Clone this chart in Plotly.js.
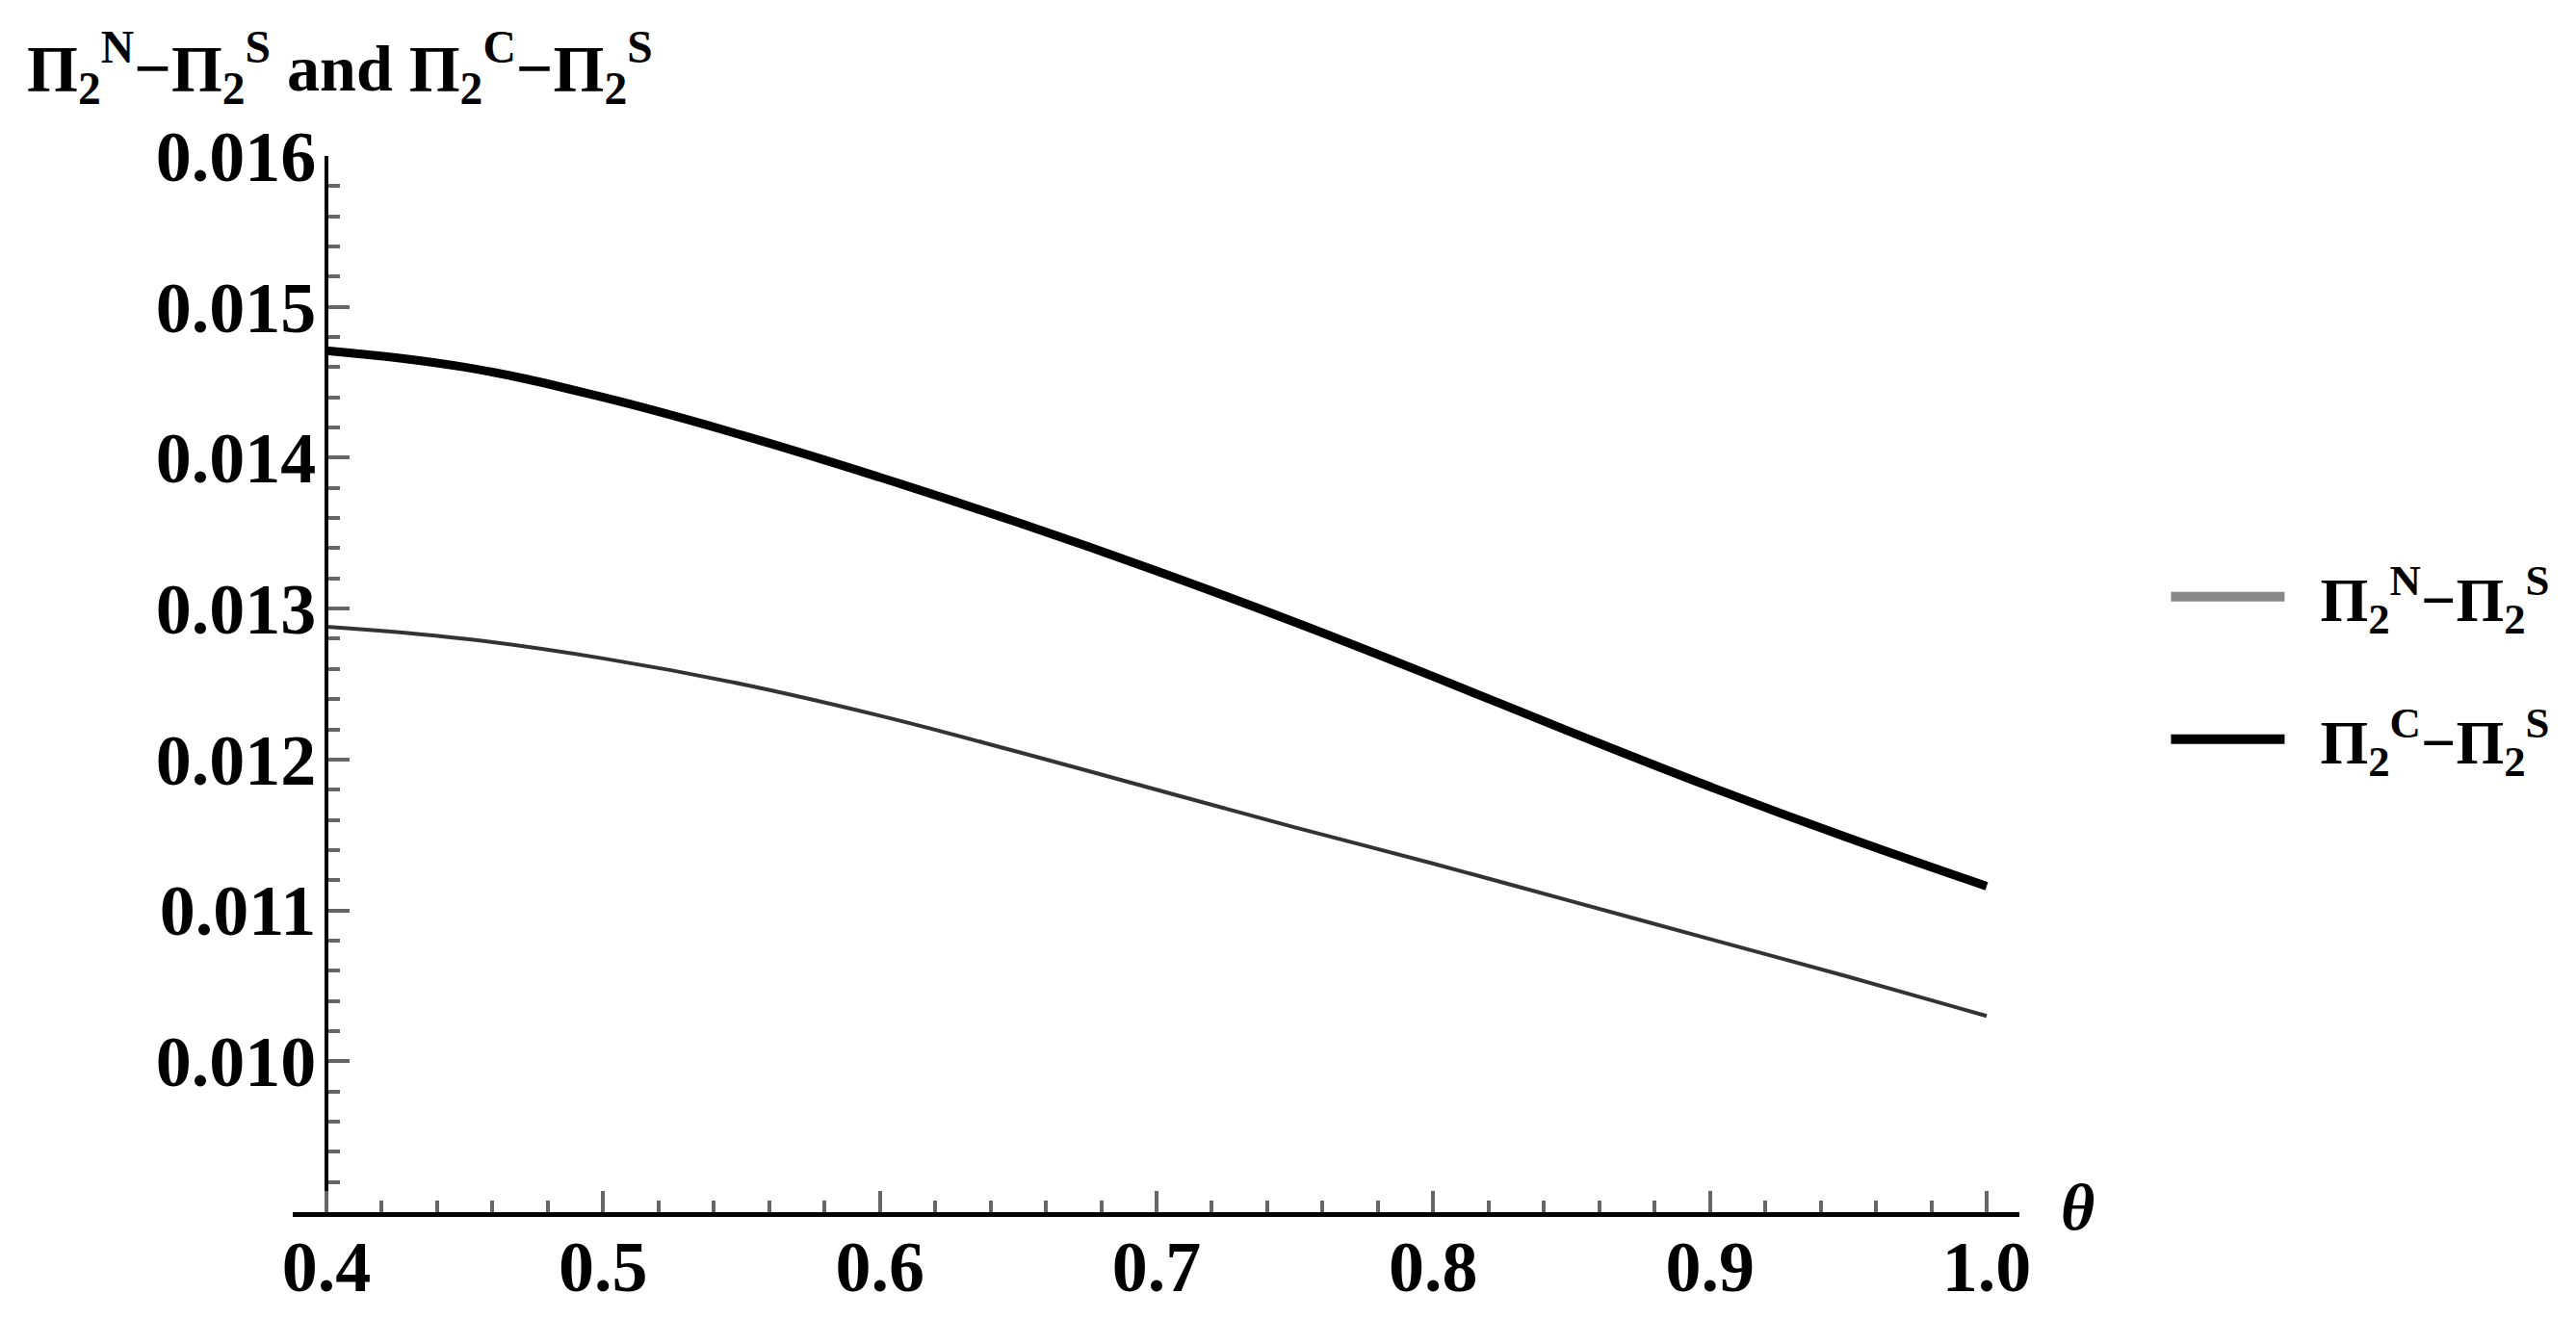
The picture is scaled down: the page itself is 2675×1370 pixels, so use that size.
<!DOCTYPE html>
<html>
<head>
<meta charset="utf-8">
<script src="https://cdn.plot.ly/plotly-3.0.1.min.js"></script>
<style>html,body{margin:0;padding:0;background:#fff;}</style>
</head>
<body>
<div id="chart" style="width:2675px;height:1370px;"></div>
<script>
// values, theta in steps of 0.05
const theta = [0.40, 0.45, 0.50, 0.55, 0.60, 0.65, 0.70, 0.75, 0.80, 0.85, 0.90, 0.95, 1.00];
const diffN = [0.01288, 0.01280, 0.01267, 0.01250, 0.01229, 0.01205, 0.01180, 0.01155, 0.01131, 0.01106, 0.01081, 0.01056, 0.01030];
const diffC = [0.01471, 0.01460, 0.01440, 0.01415, 0.01387, 0.01357, 0.01325, 0.01291, 0.01255, 0.01218, 0.01182, 0.01148, 0.01116];

const xTickVals = [0.4, 0.5, 0.6, 0.7, 0.8, 0.9, 1.0];
const xTickText = ['0.4', '0.5', '0.6', '0.7', '0.8', '0.9', '1.0'];
const yTickVals = [0.009, 0.010, 0.011, 0.012, 0.013, 0.014, 0.015, 0.016];
const yTickText = ['', '0.010', '0.011', '0.012', '0.013', '0.014', '0.015', '0.016'];

const nameN = 'Π<sub>2</sub><sup>N</sup>−Π<sub>2</sub><sup>S</sup>';
const nameC = 'Π<sub>2</sub><sup>C</sup>−Π<sub>2</sub><sup>S</sup>';

const serif = 'Liberation Serif, Times New Roman, serif';
const xRange = [0.38782, 1.01183];
const gap = '\u00a0\u00a0'; // space between legend line and text

let data = [{
    x: theta, y: diffN,
    type: 'scatter', mode: 'lines',
    line: {color: '#333', width: 4, shape: 'spline', smoothing: 1.2},
    showlegend: false, hoverinfo: 'skip'
}, {
    x: theta, y: diffC,
    type: 'scatter', mode: 'lines',
    line: {color: '#000', width: 9, shape: 'spline', smoothing: 1.2},
    showlegend: false, hoverinfo: 'skip'
}, {
    // legend samples only
    x: [null], y: [null], type: 'scatter', mode: 'lines',
    name: gap + nameN, legendgroup: 'n',
    line: {color: '#888', width: 10}
}, {
    x: [null], y: [null], type: 'scatter', mode: 'lines',
    name: gap + nameC, legendgroup: 'c',
    line: {color: '#000', width: 12}
}];

let layout = {
    width: 2675, height: 1370,
    margin: {l: 304, r: 578, t: 162, b: 111, autoexpand: false},
    paper_bgcolor: '#fff', plot_bgcolor: '#fff',
    font: {family: serif, color: '#000', size: 68, weight: 'bold'},
    title: {
        text: nameN + ' and ' + nameC,
        xref: 'container', yref: 'container',
        x: 0.0105, xanchor: 'left', y: 1 - 70 / 1370, yanchor: 'middle',
        font: {family: serif, size: 68, weight: 'bold', color: '#000'}
    },
    xaxis: {
        range: xRange, showgrid: false, zeroline: false,
        showline: true, linecolor: '#000', linewidth: 5,
        tickmode: 'array', tickvals: xTickVals, ticktext: xTickText,
        ticks: 'inside', ticklen: 22, tickwidth: 4, tickcolor: '#666',
        minor: {ticks: 'inside', dtick: 0.02, tick0: 0.4, ticklen: 12, tickwidth: 4, tickcolor: '#666'},
        tickfont: {family: serif, size: 74, weight: 'bold'},
        ticklabelstandoff: -12,
        fixedrange: true
    },
    yaxis: {
        range: [0.009, 0.016], showgrid: false, zeroline: false,
        anchor: 'free', position: (0.4 - xRange[0]) / (xRange[1] - xRange[0]),
        showline: true, linecolor: '#000', linewidth: 4,
        tickmode: 'array', tickvals: yTickVals, ticktext: yTickText,
        ticks: 'inside', ticklen: 22, tickwidth: 4, tickcolor: '#666',
        minor: {ticks: 'inside', dtick: 0.0002, tick0: 0.009, ticklen: 12, tickwidth: 4, tickcolor: '#666'},
        tickfont: {family: serif, size: 74, weight: 'bold'},
        ticklabelstandoff: -6,
        fixedrange: true
    },
    showlegend: true,
    legend: {
        x: 1.085, xanchor: 'left', y: 0.515, yanchor: 'middle',
        font: {family: serif, size: 64, weight: 'bold', color: '#000'},
        itemwidth: 118,
        tracegroupgap: 62, bgcolor: 'rgba(0,0,0,0)'
    },
    annotations: [{
        text: 'θ', xref: 'paper', yref: 'paper',
        x: 1.0335, y: 0.005, xanchor: 'center', yanchor: 'middle',
        showarrow: false,
        font: {family: serif, size: 68, style: 'italic', color: '#000'}
    }]
};

Plotly.newPlot('chart', data, layout, {displayModeBar: false, staticPlot: true});
</script>
</body>
</html>
